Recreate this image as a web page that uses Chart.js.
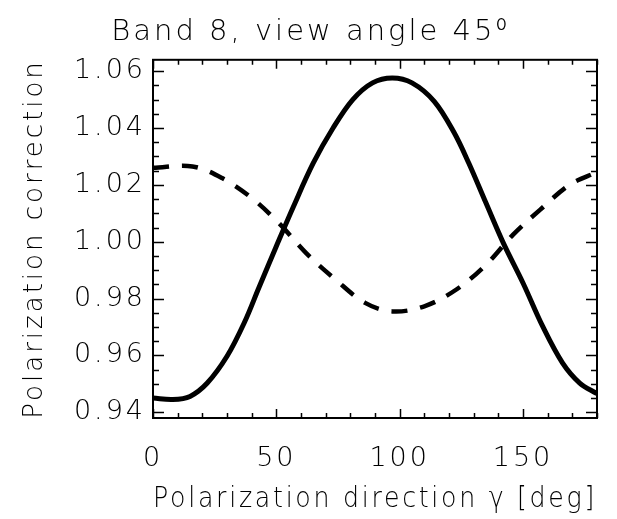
<!DOCTYPE html>
<html>
<head>
<meta charset="utf-8">
<script src="https://cdn.jsdelivr.net/npm/chart.js@4/dist/chart.umd.min.js"></script>
<style>
  html, body { margin: 0; padding: 0; background: #fff; }
  #wrap { width: 617px; height: 519px; }
</style>
</head>
<body>
<div id="wrap"><canvas id="plot"></canvas></div>
<script>
// ── Datos ──────────────────────────────────────────────────────────────
const solidX = [0, 8, 15, 22, 30, 37, 43, 50, 57, 65, 73, 81, 89, 97, 105, 114, 122, 128, 135, 142, 150, 158, 166, 173, 180];
const solidY = [0.945, 0.9445, 0.9456, 0.9503, 0.9597, 0.9715, 0.9840, 0.9984, 1.0125, 1.0277, 1.040, 1.050, 1.0559, 1.0576, 1.0559, 1.0494, 1.0385, 1.0277, 1.0136, 0.9996, 0.9855, 0.9702, 0.9574, 0.9503, 0.9466];

const dashX = [0, 16, 28, 40, 51, 62, 74, 86, 97, 110, 123, 135, 146, 157, 169, 180];
const dashY = [1.026, 1.0265, 1.0224, 1.0154, 1.0066, 0.9961, 0.9867, 0.9785, 0.9755, 0.9773, 0.9832, 0.9919, 1.0025, 1.0113, 1.0201, 1.0245];

const xTicks = [0, 50, 100, 150];
const yTicks = [0.94, 0.96, 0.98, 1.00, 1.02, 1.04, 1.06];
const xMinorStep = 10;
const yMinorStep = 0.005;

const FONT = "'DejaVu Sans', 'Liberation Sans', sans-serif";

// Letras anchas tipo Hershey: espaciado extra en todo el texto del canvas
const wideText = {
	id: "wideText",
	beforeDraw(chart) { chart.ctx.letterSpacing = "3px"; },
	beforeLayout(chart) { chart.ctx.letterSpacing = "3px"; },
};

// ── Marco y ticks hacia dentro (estilo IDL) ────────────────────────────
const idlFrame = {
	id: "idlFrame",
	afterDraw(chart) {
		const { ctx, chartArea: a, scales } = chart;
		const sx = scales.x, sy = scales.y;
		ctx.save();
		ctx.strokeStyle = "#000";
		ctx.lineWidth = 2;
		ctx.strokeRect(a.left, a.top, a.right - a.left, a.bottom - a.top);
		ctx.lineWidth = 1.5;
		ctx.beginPath();
		for (let v = sx.min; v <= sx.max + 1e-9; v += xMinorStep) {
			const px = Math.round(sx.getPixelForValue(v)) + 0.5;
			const len = (Math.abs(v % 50) < 1e-9) ? 9 : 5;
			ctx.moveTo(px, a.bottom); ctx.lineTo(px, a.bottom - len);
			ctx.moveTo(px, a.top);    ctx.lineTo(px, a.top + len);
		}
		const first = Math.ceil(sy.min / yMinorStep - 1e-9);
		const last  = Math.floor(sy.max / yMinorStep + 1e-9);
		for (let k = first; k <= last; k++) {
			const v = k * yMinorStep;
			const py = Math.round(sy.getPixelForValue(v)) + 0.5;
			const len = (k % 4 === 0) ? 11 : 6;
			ctx.moveTo(a.left, py);  ctx.lineTo(a.left + len, py);
			ctx.moveTo(a.right, py); ctx.lineTo(a.right - len, py);
		}
		ctx.stroke();
		ctx.restore();
	},
};

new Chart(document.getElementById("plot"), {
	type: "line",
	data: {
		datasets: [
			{
				data:        solidX.map((x, i) => ({ x, y: solidY[i] })),
				borderColor: "#000",
				borderWidth: 5,
				tension:     0.35,
				pointRadius: 0,
			},
			{
				data:        dashX.map((x, i) => ({ x, y: dashY[i] })),
				borderColor: "#000",
				borderWidth: 4.5,
				borderDash:  [16, 13],
				tension:     0.35,
				pointRadius: 0,
			},
		],
	},
	options: {
		responsive:          true,
		maintainAspectRatio: false,
		animation:           false,
		layout: { padding: { left: 0, right: 20, top: 0, bottom: 0 } },
		plugins: {
			legend:  { display: false },
			tooltip: { enabled: false },
			title: {
				display: true,
				text:    "\u00a0\u00a0Band 8, view angle 45\u2070",
				color:   "#000",
				font:    { family: FONT, size: 29, weight: 200 },
				padding: { top: 15, bottom: 10 },
			},
		},
		scales: {
			x: {
				type: "linear",
				min:  0,
				max:  180,
				afterBuildTicks: s => { s.ticks = xTicks.map(v => ({ value: v })); },
				afterFit: s => { s.height = 101; },
				grid:   { display: false, drawTicks: false },
				border: { display: false },
				ticks:  { color: "#000", padding: 25, maxRotation: 0, font: { family: FONT, size: 27, weight: 200 } },
				title: {
					display: true,
					text:    "Polarization direction \u03b3 [deg]",
					color:   "#000",
					font:    { family: FONT, size: 28, weight: 200 },
					padding: { top: 0, bottom: 2 },
				},
			},
			y: {
				min: 0.938,
				max: 1.064,
				afterBuildTicks: s => { s.ticks = yTicks.map(v => ({ value: v })); },
				afterFit: s => { s.width = 153; },
				grid:   { display: false, drawTicks: false },
				border: { display: false },
				ticks:  {
					color:    "#000",
					padding:  7,
					font:     { family: FONT, size: 27, weight: 200 },
					callback: v => v.toFixed(2),
				},
				title: {
					display: true,
					text:    "Polarization correction",
					color:   "#000",
					font:    { family: FONT, size: 26, weight: 200 },
					padding: { top: 20, bottom: 0 },
				},
			},
		},
	},
	plugins: [wideText, idlFrame],
});
</script>
</body>
</html>
